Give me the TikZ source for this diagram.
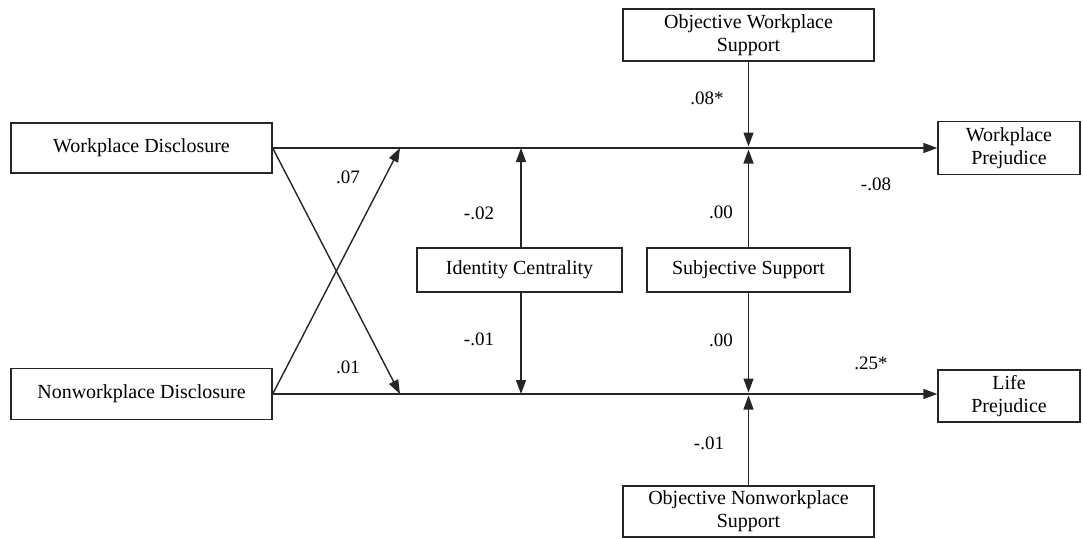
\documentclass[tikz,border=0pt]{standalone}
\usepackage{fontspec}
\setmainfont{Liberation Serif}
\usetikzlibrary{arrows.meta}
\definecolor{linec}{HTML}{262626}
\begin{document}
\begin{tikzpicture}[x=1pt,y=-1pt,
  box/.style={draw=linec,line width=1.4pt,inner sep=0pt,align=center,font=\fontsize{20}{23}\selectfont},
  lbl/.style={font=\fontsize{19}{22}\selectfont,inner sep=0pt},
  arr/.style={draw=linec,line width=1.4pt,-{Triangle[length=14pt,width=10pt]}}]
\useasboundingbox (0,0) rectangle (1083,538);
% boxes
\node[box,minimum width=261pt,minimum height=50pt] (wd) at (141.5,148) {Workplace Disclosure};
\node[box,minimum width=261pt,minimum height=51pt] (nwd) at (141.5,394) {Nonworkplace Disclosure};
\node[box,minimum width=142pt,minimum height=53pt] (wp) at (1009,148) {Workplace\\Prejudice};
\node[box,minimum width=142pt,minimum height=52pt] (lp) at (1009,396) {Life\\Prejudice};
\node[box,minimum width=251pt,minimum height=52pt] (ows) at (748.5,35) {Objective Workplace\\Support};
\node[box,minimum width=251pt,minimum height=51pt] (ons) at (748.5,511.5) {Objective Nonworkplace\\Support};
\node[box,minimum width=205pt,minimum height=44pt] (ic) at (519.5,270) {Identity Centrality};
\node[box,minimum width=203pt,minimum height=44pt] (ss) at (748.5,270) {Subjective Support};
% junction points
\coordinate (t1) at (400,148);
\coordinate (b1) at (400,394);
\coordinate (ti) at (521,148);
\coordinate (bi) at (521,394);
\coordinate (ts) at (748.5,148);
\coordinate (bs) at (748.5,394);
% connectors
\draw[arr] (wd.east) -- (wd.east -| wp.west);
\draw[arr] (nwd.east) -- (nwd.east -| lp.west);
\draw[arr] (wd.east) -- (b1);
\draw[arr] (nwd.east) -- (t1);
\draw[arr] (ti |- ic.north) -- (ti);
\draw[arr] (bi |- ic.south) -- (bi);
\draw[arr,shorten >=1.5pt] (ows.south) -- (ts);
\draw[arr,shorten >=1.5pt] (ss.north) -- (ts);
\draw[arr,shorten >=1.5pt] (ss.south) -- (bs);
\draw[arr,shorten >=1.5pt] (ons.north) -- (bs);
% labels
\node[lbl] (l07) at (348,177) {.07};
\node[lbl] (l01) at (348,367) {.01};
\node[lbl] (lm02) at (479,213) {-.02};
\node[lbl] (lm01a) at (479,339) {-.01};
\node[lbl] (l08) at (707,98) {.08*};
\node[lbl] (l00a) at (721,212) {.00};
\node[lbl] (l00b) at (721,340) {.00};
\node[lbl] (lm08) at (876,184) {-.08};
\node[lbl] (l25) at (871,363) {.25*};
\node[lbl] (lm01b) at (709,443) {-.01};
\end{tikzpicture}
\end{document}
